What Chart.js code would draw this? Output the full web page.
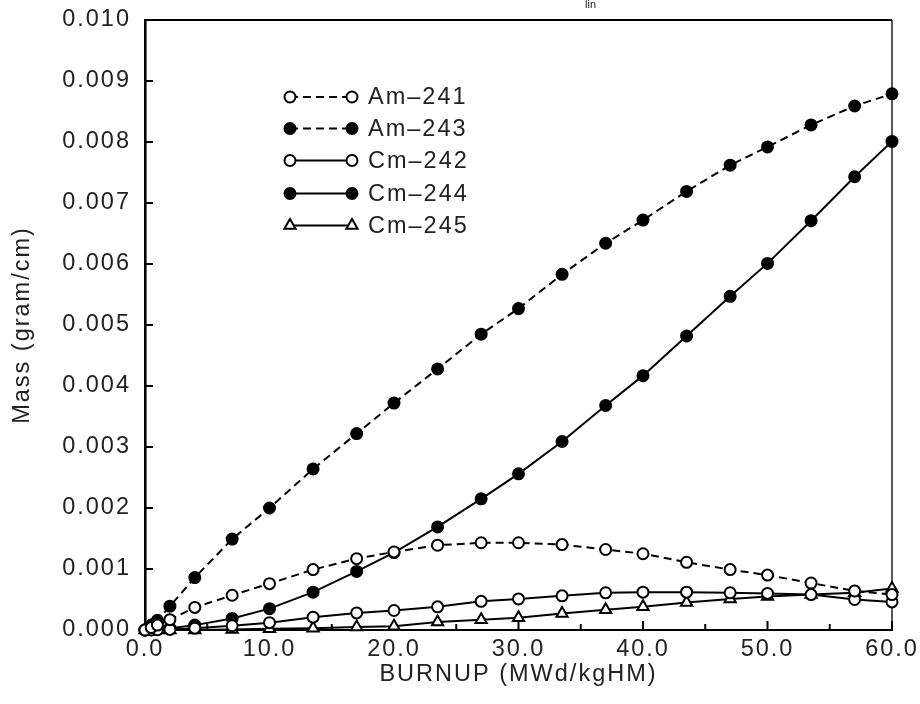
<!DOCTYPE html>
<html>
<head>
<meta charset="utf-8">
<script src="https://cdn.jsdelivr.net/npm/chart.js@4.4.1/dist/chart.umd.min.js"></script>
<style>
  html, body { margin: 0; padding: 0; background: #fff; }
  #wrap { width: 920px; height: 704px; }
</style>
</head>
<body>
<div id="wrap"><canvas id="c" width="920" height="704"></canvas></div>
<script>
// ---- data ----
const burnup = [0, 0.5, 1, 2, 4, 7, 10, 13.5, 17, 20, 23.5, 27, 30, 33.5, 37, 40, 43.5, 47, 50, 53.5, 57, 60];
const seriesNames = ['Am\u2013241', 'Am\u2013243', 'Cm\u2013242', 'Cm\u2013244', 'Cm\u2013245'];
const am241 = [0, 0.00004, 0.00008, 0.00017, 0.00037, 0.00057, 0.00076, 0.00099, 0.00117, 0.00128, 0.00139, 0.00143, 0.00143, 0.00140, 0.00132, 0.00125, 0.00111, 0.00099, 0.00090, 0.00077, 0.00064, 0.00058];
const am243 = [0, 0.00008, 0.00016, 0.00039, 0.00086, 0.00149, 0.00200, 0.00264, 0.00322, 0.00372, 0.00428, 0.00485, 0.00527, 0.00583, 0.00634, 0.00672, 0.00719, 0.00762, 0.00792, 0.00828, 0.00859, 0.00879];
const cm242 = [0, 0, 0.000005, 0.00001, 0.00003, 0.00007, 0.00012, 0.00021, 0.00028, 0.00032, 0.00038, 0.00047, 0.00051, 0.00056, 0.00061, 0.00062, 0.00062, 0.00061, 0.00060, 0.00058, 0.00050, 0.00046];
const cm244 = [0, 0.000005, 0.00001, 0.00003, 0.00008, 0.00019, 0.00035, 0.00062, 0.00096, 0.00127, 0.00169, 0.00215, 0.00256, 0.00309, 0.00368, 0.00417, 0.00482, 0.00547, 0.00601, 0.00671, 0.00743, 0.00801];
const cm245 = [0, 0, 0, 0, 0, 0.00001, 0.00002, 0.00003, 0.00005, 0.00006, 0.00013, 0.00017, 0.00020, 0.00027, 0.00033, 0.00038, 0.00045, 0.00051, 0.00055, 0.00058, 0.00061, 0.00068];
const xTickValues = [0, 10, 20, 30, 40, 50, 60];
const xMinorTickValues = [5, 15, 25, 35, 45, 55];
const yTickValues = [0, 0.001, 0.002, 0.003, 0.004, 0.005, 0.006, 0.007, 0.008, 0.009, 0.010];
const xTitle = 'BURNUP (MWd/kgHM)';
const yTitle = 'Mass (gram/cm)';
const topFragment = 'lin';

// ---- styling ----
const FONT = "'Liberation Sans', Arial, Helvetica, sans-serif";
const TXT = '#222';
const SPACING = '2px';

function pairs(vals) { return burnup.map((x, i) => ({ x: x, y: vals[i] })); }

const styles = [
  { data: am241, dash: [8, 5], fill: '#fff', point: 'circle', r: 5.5 },
  { data: am243, dash: [8, 5], fill: '#000', point: 'circle', r: 5.5 },
  { data: cm242, dash: [],     fill: '#fff', point: 'circle', r: 5.5 },
  { data: cm244, dash: [],     fill: '#000', point: 'circle', r: 5.5 },
  { data: cm245, dash: [],     fill: '#fff', point: 'triangle', r: 6.5 }
];

const datasets = styles.map((s, i) => ({
  label: seriesNames[i],
  data: pairs(s.data),
  borderColor: '#000',
  borderWidth: 2,
  borderDash: s.dash,
  backgroundColor: s.fill,
  pointStyle: s.point,
  pointRadius: s.r,
  pointBorderWidth: 2,
  pointBorderColor: '#000',
  pointBackgroundColor: s.fill,
  tension: 0,
  clip: false,
  fill: false
}));

const spacingPlugin = {
  id: 'spacing',
  beforeUpdate(c) { c.ctx.letterSpacing = SPACING; },
  beforeLayout(c) { c.ctx.letterSpacing = SPACING; },
  beforeDraw(c) { c.ctx.letterSpacing = SPACING; }
};

const framePlugin = {
  id: 'frame',
  beforeDatasetsDraw(c) {
    const ctx = c.ctx, a = c.chartArea, xs = c.scales.x, ys = c.scales.y;
    ctx.save();
    ctx.strokeStyle = '#000';
    // top and right frame lines
    ctx.lineWidth = 1.8;
    ctx.beginPath();
    ctx.moveTo(a.left, a.top); ctx.lineTo(a.right, a.top);
    ctx.stroke();
    ctx.lineWidth = 1.3;
    ctx.beginPath();
    ctx.moveTo(a.right, a.top); ctx.lineTo(a.right, a.bottom);
    ctx.stroke();
    // inward tick marks
    ctx.lineWidth = 2;
    ctx.beginPath();
    xTickValues.forEach(v => { const p = xs.getPixelForValue(v); ctx.moveTo(p, a.bottom); ctx.lineTo(p, a.bottom - 9); });
    xMinorTickValues.forEach(v => { const p = xs.getPixelForValue(v); ctx.moveTo(p, a.bottom); ctx.lineTo(p, a.bottom - 6); });
    yTickValues.forEach(v => { const p = ys.getPixelForValue(v); ctx.moveTo(a.left, p); ctx.lineTo(a.left + 8, p); });
    ctx.stroke();
    ctx.restore();
  },
  afterDraw(c) {
    const ctx = c.ctx;
    ctx.save();
    ctx.letterSpacing = '0px';
    ctx.fillStyle = TXT;
    ctx.font = "11px " + FONT;
    ctx.textBaseline = 'alphabetic';
    ctx.fillText(topFragment, 585, 8);
    ctx.restore();
  }
};

const legendPlugin = {
  id: 'customLegend',
  afterDraw(c) {
    const ctx = c.ctx;
    const x0 = 290, x1 = 352, tx = 368;
    const rows = [97, 128.5, 160.5, 193.5, 225.5];
    ctx.save();
    c.data.datasets.forEach((ds, i) => {
      const y = rows[i];
      ctx.strokeStyle = '#000';
      ctx.lineWidth = 2;
      ctx.setLineDash(ds.borderDash || []);
      ctx.beginPath(); ctx.moveTo(x0, y); ctx.lineTo(x1, y); ctx.stroke();
      ctx.setLineDash([]);
      [x0, x1].forEach(px => {
        ctx.fillStyle = ds.pointBackgroundColor;
        ctx.strokeStyle = '#000';
        ctx.lineWidth = 2;
        Chart.helpers.drawPoint(ctx, { pointStyle: ds.pointStyle, radius: ds.pointRadius, rotation: 0, borderWidth: 2 }, px, y);
      });
      ctx.letterSpacing = SPACING;
      ctx.fillStyle = TXT;
      ctx.font = "23.5px " + FONT;
      ctx.textBaseline = 'middle';
      ctx.textAlign = 'left';
      ctx.fillText(ds.label, tx, y + 1);
    });
    ctx.restore();
  }
};

new Chart(document.getElementById('c'), {
  type: 'line',
  data: { datasets: datasets },
  plugins: [spacingPlugin, framePlugin, legendPlugin],
  options: {
    responsive: false,
    animation: false,
    devicePixelRatio: 1,
    layout: { padding: { left: 0, top: 20, right: 28, bottom: 0 } },
    plugins: { legend: { display: false }, tooltip: { enabled: false }, title: { display: false } },
    elements: { line: { borderJoinStyle: 'miter' } },
    scales: {
      x: {
        type: 'linear', min: 0, max: 60,
        grid: { display: true, drawOnChartArea: false, drawTicks: false },
        border: { display: true, color: '#000', width: 2 },
        ticks: {
          stepSize: 10, autoSkip: false, maxRotation: 0, padding: 5,
          color: TXT, font: { family: FONT, size: 23.5 },
          callback: v => Number(v).toFixed(1)
        },
        title: { display: true, text: xTitle, color: TXT, font: { family: FONT, size: 23.5 }, padding: { top: 0, bottom: 15 } },
        afterFit(s) { s.height = 74; s.paddingLeft = 0; s.paddingRight = 0; }
      },
      y: {
        type: 'linear', min: 0, max: 0.010,
        grid: { display: true, drawOnChartArea: false, drawTicks: false },
        border: { display: true, color: '#000', width: 2.6 },
        ticks: {
          stepSize: 0.001, autoSkip: false, padding: 14,
          color: TXT, font: { family: FONT, size: 23.5 },
          callback: v => Number(v).toFixed(3)
        },
        title: { display: true, text: yTitle, color: TXT, font: { family: FONT, size: 23.5 }, padding: { top: 8, bottom: 0 } },
        afterFit(s) { s.width = 145; s.paddingTop = 0; s.paddingBottom = 0; }
      }
    }
  }
});
</script>
</body>
</html>
